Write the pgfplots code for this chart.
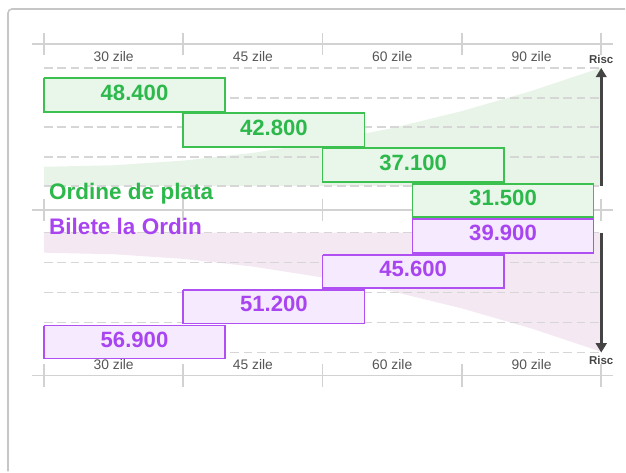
\documentclass[border=0pt]{standalone}
\usepackage{fontspec}
\setmainfont{Liberation Sans}
\usepackage{pgfplots}
\usepackage{pgfplotstable}
\pgfplotsset{compat=1.18}
\usetikzlibrary{arrows.meta}

\definecolor{gtext}{HTML}{2DB84B}
\definecolor{gborder}{HTML}{3CC04F}
\definecolor{gfill}{HTML}{E8F7EA}
\definecolor{garea}{HTML}{E9F4E9}
\definecolor{ptext}{HTML}{A844F0}
\definecolor{pborder}{HTML}{B050F2}
\definecolor{pfill}{HTML}{F6EAFF}
\definecolor{parea}{HTML}{F4E8F2}
\definecolor{gridc}{HTML}{D6D6D6}
\definecolor{axc}{HTML}{D2D2D2}
\definecolor{labc}{HTML}{555555}
\definecolor{arrc}{HTML}{444444}
\definecolor{framec}{HTML}{C6C6C6}

% green boxes (x in category units, y in px from top)
\pgfplotstableread{
x y
0 78
1.3 78
1.3 112
0 112
0 78
nan nan
1 113
2.3 113
2.3 147
1 147
1 113
nan nan
2 148
3.3 148
3.3 182
2 182
2 148
nan nan
2.645 184
3.945 184
3.945 217
2.645 217
2.645 184
}\greenboxes

\pgfplotstableread{
x y
2.645 219
3.945 219
3.945 253
2.645 253
2.645 219
nan nan
2 255
3.3 255
3.3 288
2 288
2 255
nan nan
1 290
2.3 290
2.3 324
1 324
1 290
nan nan
0 326
1.3 326
1.3 359
0 359
0 326
}\purpleboxes

\pgfplotstableread{
x y label
0.65 100.5 48.400
1.65 135.5 42.800
2.65 170.5 37.100
3.295 206 31.500
}\greenlabels

\pgfplotstableread{
x y label
3.295 241 39.900
2.65 276.5 45.600
1.65 312 51.200
0.65 347.5 56.900
}\purplelabels

% risk areas
\pgfplotstableread{
x y
0 186
0 167
0.5 165.45
1 160.8
1.5 153.05
2 142.2
2.5 128.25
3 111.2
3.5 91.05
4 67.8
4 186
}\greenarea

\pgfplotstableread{
x y
0 233
0 253
0.5 254.55
1 259.2
1.5 266.95
2 277.8
2.5 291.75
3 308.8
3.5 328.95
4 352.2
4 233
}\purplearea

% dashed guide lines
\pgfplotstableread{
x y
0 68
4 68
nan nan
0 98
4 98
nan nan
0 127
4 127
nan nan
0 157
4 157
nan nan
0 186
4 186
nan nan
0 233
4 233
nan nan
0 263
4 263
nan nan
0 293
4 293
nan nan
0 323
4 323
nan nan
0 353
4 353
}\dashlines

% axis lines and ticks
\pgfplotstableread{
x y
-0.086 44
4.086 44
nan nan
-0.086 210
4.086 210
nan nan
-0.086 376
4.086 376
nan nan
0 33
0 55
nan nan
1 33
1 55
nan nan
2 33
2 55
nan nan
3 33
3 55
nan nan
4 33
4 55
nan nan
0 199
0 221
nan nan
1 199
1 221
nan nan
2 199
2 221
nan nan
3 199
3 221
nan nan
4 199
4 221
nan nan
0 364
0 387
nan nan
1 364
1 387
nan nan
2 364
2 387
nan nan
3 364
3 387
nan nan
4 364
4 387
}\axislines

\tikzset{ticklab/.style={anchor=base, inner sep=0pt, text=labc, font=\fontsize{10.4}{12}\selectfont},
  risclab/.style={anchor=base, inner sep=0pt, text=arrc, font=\bfseries\fontsize{8.6}{10}\selectfont}}

\begin{document}
\begin{tikzpicture}
\begin{axis}[
  scale only axis,
  width=469.5pt, height=354pt,
  xmin=-0.31541, xmax=4.17204,
  ymin=0, ymax=472, y dir=reverse,
  axis line style={draw=none},
  ticks=none,
  unbounded coords=jump,
  clip=false,
]
% frame
\draw[framec, line width=1.2pt, rounded corners=3pt]
  (axis cs:-0.258,472) -- (axis cs:-0.258,9) -- (axis cs:4.17204,9);

% areas
\addplot[fill=garea, draw=none] table[x=x,y=y] {\greenarea};
\addplot[fill=parea, draw=none] table[x=x,y=y] {\purplearea};

% dashed lines
\addplot[gridc, line width=1.1pt, dash pattern=on 6.5pt off 3.5pt] table[x=x,y=y] {\dashlines};

% axis lines
\addplot[axc, line width=1.2pt] table[x=x,y=y] {\axislines};

% tick labels
\node[ticklab] at (axis cs:0.5,62) {30 zile};
\node[ticklab] at (axis cs:1.5,62) {45 zile};
\node[ticklab] at (axis cs:2.5,62) {60 zile};
\node[ticklab] at (axis cs:3.5,62) {90 zile};
\node[ticklab] at (axis cs:0.5,369.5) {30 zile};
\node[ticklab] at (axis cs:1.5,369.5) {45 zile};
\node[ticklab] at (axis cs:2.5,369.5) {60 zile};
\node[ticklab] at (axis cs:3.5,369.5) {90 zile};
\node[risclab] at (axis cs:4,64) {Risc};
\node[risclab] at (axis cs:4,365) {Risc};

% arrows
\addplot[arrc, line width=2.6pt, -{Triangle[width=8pt,length=7pt]}] coordinates {(4,186) (4,68)};
\addplot[arrc, line width=2.6pt, -{Triangle[width=8pt,length=7pt]}] coordinates {(4,233) (4,353)};

% boxes
\addplot[fill=gfill, draw=gborder, line width=1.3pt] table[x=x,y=y] {\greenboxes};
\addplot[fill=pfill, draw=pborder, line width=1.3pt] table[x=x,y=y] {\purpleboxes};

% values
\addplot[only marks, mark=none, point meta=explicit symbolic, nodes near coords,
  every node near coord/.append style={anchor=base, inner sep=0pt, text=gtext, font=\bfseries\fontsize{16.6}{18}\selectfont}]
  table[x=x,y=y,meta=label] {\greenlabels};
\addplot[only marks, mark=none, point meta=explicit symbolic, nodes near coords,
  every node near coord/.append style={anchor=base, inner sep=0pt, text=ptext, font=\bfseries\fontsize{16.6}{18}\selectfont}]
  table[x=x,y=y,meta=label] {\purplelabels};

% section labels
\node[anchor=base west, inner sep=0pt, text=gtext, font=\bfseries\fontsize{16.9}{18}\selectfont] at (axis cs:0.036,200) {Ordine de plata};
\node[anchor=base west, inner sep=0pt, text=ptext, font=\bfseries\fontsize{16.9}{18}\selectfont] at (axis cs:0.036,235) {Bilete la Ordin};
\end{axis}
\end{tikzpicture}
\end{document}
